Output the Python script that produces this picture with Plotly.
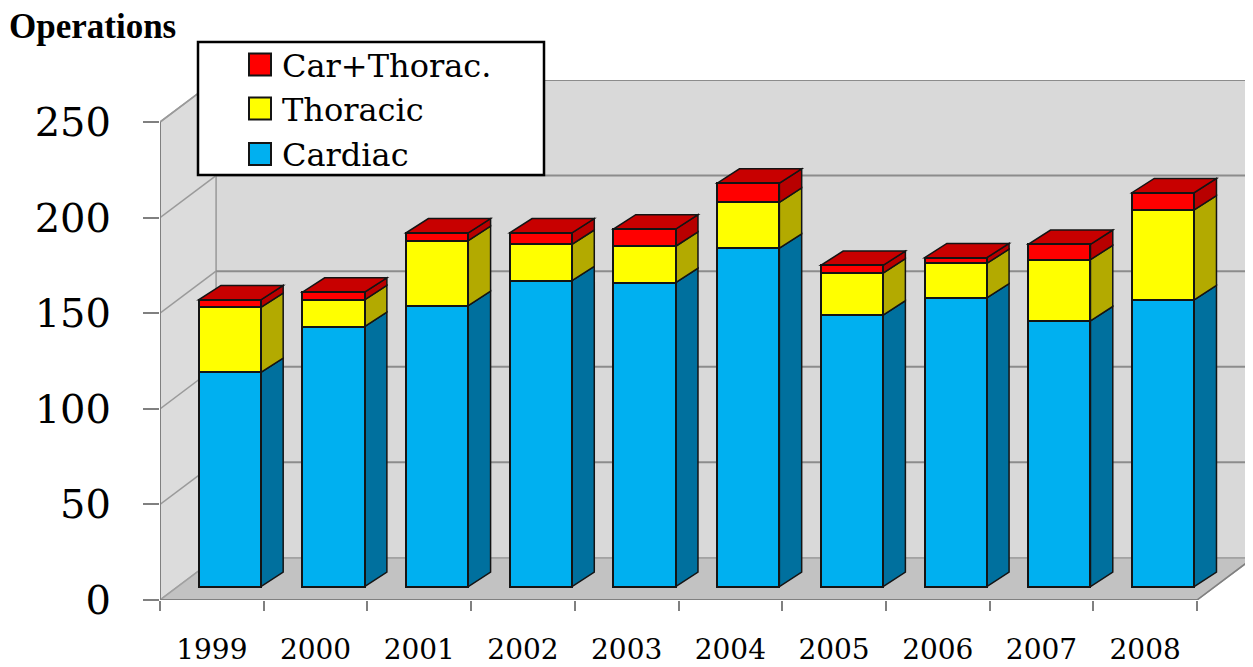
import numpy as np
import plotly.graph_objects as go

# ---------------- data ----------------
years = ["1999", "2000", "2001", "2002", "2003", "2004", "2005", "2006", "2007", "2008"]
cardiac = [112, 136, 147, 160, 159, 177, 142, 151, 139, 150]
thoracic = [34, 14, 34, 19, 19, 24, 22, 18, 32, 47]
car_thorac = [4, 4, 4, 6, 9, 10, 4, 3, 8, 9]
series_names = ["Cardiac", "Thoracic", "Car+Thorac."]
y_ticks = [0, 50, 100, 150, 200, 250]

# ---------------- style ----------------
front_colors = ["#00b0f0", "#ffff00", "#ff0000"]
side_colors = ["#00709e", "#b3aa00", "#b80000"]
top_color = "#c80000"
edge = "#141414"

DEPTH_X = 0.54      # depth of the 3D box in category units
DEPTH_Y = 22.0      # depth of the 3D box in value units
BAR_FRONT = 0.32    # fraction of depth where bar front faces sit
BAR_DX = 0.215      # bar depth, x
BAR_DY = 7.5        # bar depth, y
BAR_W = 0.6
YMAX = y_ticks[-1]

# page has an 8px body margin; plot area spans page x 160..1253, y 80..600
PLOT_L, PLOT_W, PLOT_B, PLOT_H = 160, 1093, 600, 520
def px(x):
    return (x - PLOT_L) / PLOT_W
def py(y):
    return (PLOT_B - y) / PLOT_H

n = len(years)
xc = np.arange(n)
x_front = xc + BAR_FRONT * DEPTH_X
base0 = BAR_FRONT * DEPTH_Y
series = [cardiac, thoracic, car_thorac]

fig = go.Figure()
shapes = []

def poly(pts, fill, line_color=None, width=1.5):
    path = "M " + " L ".join(f"{x},{y}" for x, y in pts) + " Z"
    return dict(type="path", path=path, xref="x", yref="y", layer="below",
                fillcolor=fill, line=dict(color=line_color or fill, width=width))

def seg(x0, y0, x1, y1, color, width=1.5):
    return dict(type="line", x0=x0, y0=y0, x1=x1, y1=y1, xref="x", yref="y",
                layer="below", line=dict(color=color, width=width))

L, R = -0.5, n - 0.5
# back wall
shapes.append(poly([(L + DEPTH_X, DEPTH_Y), (R + DEPTH_X, DEPTH_Y),
                    (R + DEPTH_X, YMAX + DEPTH_Y), (L + DEPTH_X, YMAX + DEPTH_Y)],
                   "#d9d9d9", "#a0a0a0", 1.5))
# left wall
shapes.append(poly([(L, 0), (L + DEPTH_X, DEPTH_Y), (L + DEPTH_X, YMAX + DEPTH_Y), (L, YMAX)],
                   "#dcdcdc", "#a0a0a0", 1.5))
# floor
shapes.append(poly([(L, 0), (R, 0), (R + DEPTH_X, DEPTH_Y), (L + DEPTH_X, DEPTH_Y)],
                   "#c2c2c2", "#a0a0a0", 1.5))
# gridlines
for v in y_ticks[1:]:
    shapes.append(seg(L + DEPTH_X, v + DEPTH_Y, R + DEPTH_X, v + DEPTH_Y, "#8c8c8c", 2))
    shapes.append(seg(L, v, L + DEPTH_X, v + DEPTH_Y, "#9a9a9a", 1.5))
# front axis edges
shapes.append(seg(L, 0, L, YMAX, "#808080", 2))
shapes.append(seg(L, 0, R, 0, "#808080", 2))
shapes.append(seg(R, 0, R + DEPTH_X, DEPTH_Y, "#808080", 1.5))

# bars (front faces) + side/top faces
bottom = np.full(n, base0, dtype=float)
for k, vals in enumerate(series):
    vals = np.array(vals, dtype=float)
    fig.add_trace(go.Bar(
        x=x_front, y=vals, base=bottom, width=BAR_W,
        marker=dict(color=front_colors[k], line=dict(color=edge, width=2)),
        name=series_names[k], showlegend=False, hoverinfo="skip"))
    top = bottom + vals
    for i in range(n):
        xr = x_front[i] + BAR_W / 2
        shapes.append(poly([(xr, bottom[i]), (xr + BAR_DX, bottom[i] + BAR_DY),
                            (xr + BAR_DX, top[i] + BAR_DY), (xr, top[i])],
                           side_colors[k], edge, 1.5))
    bottom = top

for i in range(n):
    xl = x_front[i] - BAR_W / 2
    xr = x_front[i] + BAR_W / 2
    t = bottom[i]
    shapes.append(poly([(xl, t), (xr, t), (xr + BAR_DX, t + BAR_DY), (xl + BAR_DX, t + BAR_DY)],
                       top_color, edge, 1.5))

# ---------------- legend (drawn box) ----------------
annotations = []
shapes.append(dict(type="rect", xref="paper", yref="paper", layer="above",
                   x0=px(198), x1=px(544), y0=py(175), y1=py(42),
                   fillcolor="white", line=dict(color="black", width=2.5)))
legend_rows = [(2, 64.5), (1, 108.5), (0, 154)]
for k, yc in legend_rows:
    shapes.append(dict(type="rect", xref="paper", yref="paper", layer="above",
                       x0=px(249), x1=px(271), y0=py(yc + 11), y1=py(yc - 11),
                       fillcolor=front_colors[k], line=dict(color=edge, width=2)))
    annotations.append(dict(text=series_names[k], xref="paper", yref="paper",
                            x=px(280), y=py(yc + 1), xanchor="left", yanchor="middle",
                            showarrow=False,
                            font=dict(family="DejaVu Serif", size=32, color="black")))

annotations.append(dict(text="Operations", xref="paper", yref="paper",
                        x=px(7), y=py(27), xanchor="left", yanchor="middle",
                        showarrow=False,
                        font=dict(family="Liberation Serif", size=35, color="black", weight=700)))

fig.update_layout(
    width=1245, height=659,
    margin=dict(l=152, r=0, t=72, b=67),
    paper_bgcolor="white", plot_bgcolor="white",
    barmode="overlay", bargap=0,
    shapes=shapes,
    annotations=annotations,
    showlegend=False,
    xaxis=dict(range=[L, R + DEPTH_X], tickmode="array", tickvals=list(xc), ticktext=years,
               ticks="", showgrid=False, zeroline=False, showline=False,
               ticklabelstandoff=30, automargin=False,
               tickfont=dict(family="DejaVu Serif", size=28, color="black"),
               minor=dict(tickmode="array", tickvals=list(np.arange(n + 1) - 0.5),
                          ticks="outside", ticklen=10, tickcolor="#808080", tickwidth=1.5,
                          showgrid=False)),
    yaxis=dict(range=[0, YMAX + DEPTH_Y], tickmode="array", tickvals=y_ticks,
               ticks="outside", ticklen=16, tickwidth=2, tickcolor="#808080",
               showgrid=False, zeroline=False, showline=False, ticklabelstandoff=24,
               automargin=False,
               tickfont=dict(family="DejaVu Serif", size=40, color="black")),
)

fig.write_html("out.html")
